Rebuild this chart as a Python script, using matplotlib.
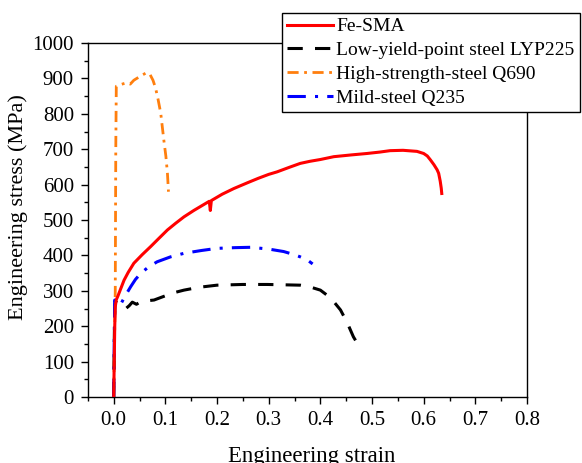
import matplotlib
matplotlib.use("Agg")
import matplotlib.pyplot as plt
from matplotlib.ticker import MultipleLocator, FormatStrFormatter

plt.rcParams['font.family'] = ['Liberation Serif', 'DejaVu Serif']

# Fe-SMA
sma_strain = [0.0, 0.001, 0.002, 0.003, 0.005, 0.008, 0.012, 0.016, 0.020, 0.028, 0.039,
              0.055, 0.0715, 0.088, 0.104, 0.12, 0.136, 0.155, 0.170, 0.185, 0.187,
              0.189, 0.21, 0.2325, 0.26, 0.28, 0.30, 0.316, 0.34, 0.361, 0.38, 0.40,
              0.426, 0.46, 0.49, 0.515, 0.535, 0.56, 0.587, 0.60, 0.607, 0.613, 0.620,
              0.626, 0.629, 0.632, 0.634, 0.635]
sma_stress = [0, 100, 200, 255, 275, 285, 300, 315, 330, 352, 378,
              402, 425, 449, 472, 491, 509, 527, 540, 553, 527,
              555, 573, 589, 606, 618, 629, 636, 649, 660, 666, 671,
              679, 684, 688, 692, 696, 697, 694, 688, 681, 670, 656,
              642, 632, 610, 590, 575]

# LYP225
lyp_strain = [0.0, 0.001, 0.002, 0.003, 0.008, 0.015, 0.022, 0.030, 0.036, 0.044, 0.052,
              0.065, 0.078, 0.10, 0.12, 0.136, 0.165, 0.20, 0.25, 0.297, 0.33, 0.361,
              0.38, 0.40, 0.42, 0.439, 0.452, 0.464, 0.471]
lyp_stress = [0, 150, 250, 270, 265, 255, 248, 258, 268, 262, 269,
              272, 274, 286, 296, 302, 310, 316, 318, 318, 317, 316,
              311, 302, 280, 246, 210, 170, 153]

# Q690
q690_strain = [0.0, 0.001, 0.003, 0.004, 0.005, 0.012, 0.025, 0.032, 0.039, 0.05, 0.063,
               0.07, 0.076, 0.081, 0.086, 0.091, 0.097, 0.101, 0.104, 0.106]
q690_stress = [0, 100, 300, 700, 878, 882, 888, 884, 895, 905, 916,
               912, 895, 873, 840, 802, 726, 680, 632, 580]

# Q235
q235_strain = [0.0, 0.001, 0.002, 0.006, 0.0135, 0.022, 0.033, 0.042, 0.052, 0.067, 0.084,
               0.11, 0.136, 0.17, 0.20, 0.235, 0.265, 0.30, 0.329, 0.35, 0.361, 0.375, 0.385]
q235_stress = [0, 150, 274, 265, 262, 285, 312, 332, 349, 367, 382,
               396, 406, 414, 420, 422, 423, 418, 411, 402, 396, 387, 376]

fig = plt.figure(figsize=(5.82, 4.63), dpi=100)
ax = fig.add_axes([0.151, 0.1425, 0.7545, 0.7645])

ax.plot(sma_strain, sma_stress, color='red', lw=2.2, label='Fe-SMA', zorder=4)
ax.plot(lyp_strain, lyp_stress, color='black', lw=2.2, ls=(0, (5, 4)),
        label='Low-yield-point steel LYP225', zorder=3)
ax.plot(q690_strain, q690_stress, color='#ff7f0e', lw=2.0, ls=(0, (4, 2, 1, 2)),
        label='High-strength-steel Q690', zorder=2)
ax.plot(q235_strain, q235_stress, color='blue', lw=2.2, ls=(0, (6, 3, 1, 3)),
        label='Mild-steel Q235', zorder=3)

ax.set_xlim(-0.05, 0.8)
ax.set_ylim(0, 1000)
ax.xaxis.set_major_locator(MultipleLocator(0.1))
ax.xaxis.set_minor_locator(MultipleLocator(0.05))
ax.xaxis.set_major_formatter(FormatStrFormatter('%.1f'))
ax.yaxis.set_major_locator(MultipleLocator(100))
ax.yaxis.set_minor_locator(MultipleLocator(50))
ax.tick_params(which='both', direction='out', labelsize=15, width=1, pad=5)
ax.tick_params(which='major', length=5)
ax.tick_params(which='minor', length=3)
for s in ax.spines.values():
    s.set_linewidth(1)

ax.set_xlabel('Engineering strain', fontsize=16.4)
ax.set_ylabel('Engineering stress (MPa)', fontsize=16)
ax.xaxis.set_label_coords(0.51, -0.138)
ax.yaxis.set_label_coords(-0.137, 0.537)

leg = ax.legend(loc='upper left', bbox_to_anchor=(282 / 582, 1 - 13 / 463),
                bbox_transform=fig.transFigure, borderaxespad=0, fontsize=14,
                fancybox=False, framealpha=1, edgecolor='black', handlelength=2.35,
                handletextpad=0.2, borderpad=0.25, labelspacing=0.32)
leg.get_frame().set_linewidth(1)

fig.savefig('out.png', dpi=100)
